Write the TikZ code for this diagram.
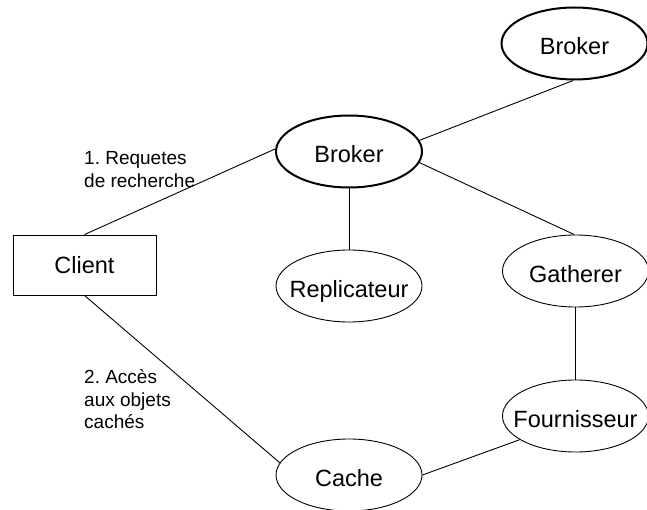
\documentclass[tikz,border=0pt]{standalone}
\usepackage{fontspec}
\setmainfont{Liberation Sans}
\usetikzlibrary{shapes.geometric}
\frenchspacing
\begin{document}
\begin{tikzpicture}[x=1pt,y=-1pt,
  ell/.style={ellipse, draw, line width=0.9pt, minimum width=146pt, minimum height=72pt,
    inner xsep=-15pt, inner ysep=0pt, font=\fontsize{23.5}{27}\selectfont,
    text height=23pt, text depth=0pt},
  hub/.style={ell, line width=2pt},
  box/.style={rectangle, draw, line width=0.9pt, minimum width=143pt, minimum height=60pt,
    inner sep=0pt, font=\fontsize{23.5}{27}\selectfont},
  link/.style={line width=0.9pt},
  note/.style={font=\fontsize{19}{22.5}\selectfont, align=left, inner sep=0pt, anchor=base west}]
\useasboundingbox (0,0) rectangle (647,510);

% nodes of the search architecture
\node[hub] (top) at (574.5,43.5) {Broker};
\node[hub] (brk) at (349,151.5) {Broker};
\node[ell] (rep) at (349,286) {Replicateur};
\node[ell] (gat) at (575.5,271) {Gatherer};
\node[ell] (fou) at (575.5,416) {Fournisseur};
\node[ell] (cac) at (349,475) {Cache};
\node[box] (cli) at (84.5,265) {Client};

% connections
\draw[link] (brk.9) -- (top.-92);
\draw[link] (brk.-9) -- (gat.92);
\draw[link] (brk) -- (rep);
\draw[link] (gat) -- (fou);
\draw[link] (fou.-157) -- (cac.east);
\draw[link] (cli.north) -- (brk.178);
\draw[link] (cli.south) -- (cac.170);

% request labels (the base anchor sits on the last line)
\node[note] (q1) at (84,187.5) {1. Requetes\\de recherche};
\node[note] (q2) at (84,428.5) {2. Accès\\aux objets\\cachés};
\end{tikzpicture}
\end{document}
